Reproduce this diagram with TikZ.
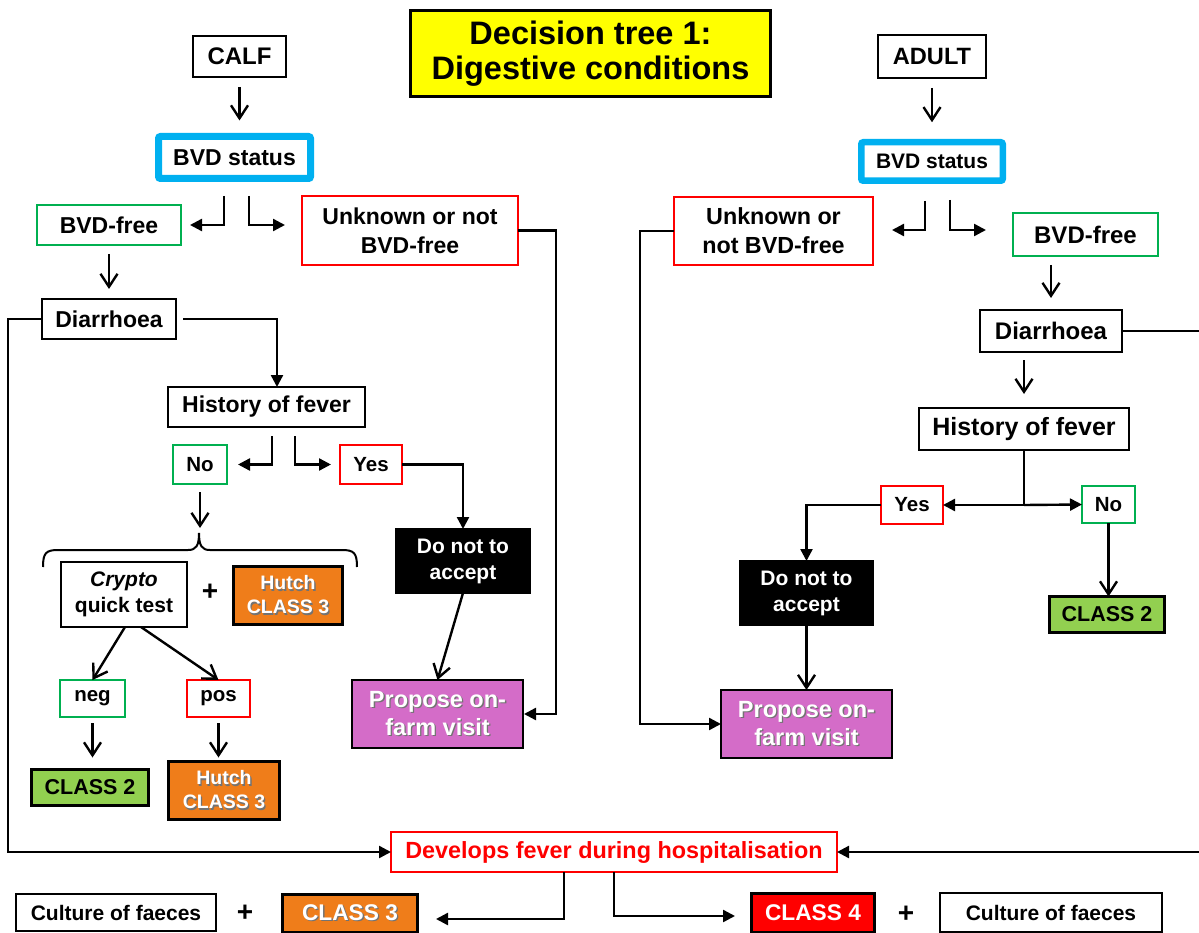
\documentclass[tikz,border=0pt]{standalone}
\usepackage{fontspec}
\setmainfont{Liberation Sans}
\usetikzlibrary{arrows.meta,calc}

\definecolor{tyellow}{HTML}{FFFF00}
\definecolor{tblue}{HTML}{00B0F0}
\definecolor{tgreen}{HTML}{00B050}
\definecolor{tred}{HTML}{FF0000}
\definecolor{torange}{HTML}{EF7D1A}
\definecolor{tlime}{HTML}{92D050}
\definecolor{tpurple}{HTML}{D46CC8}

% font size with line spacing
\newcommand\fs[2]{\fontsize{#1}{#2}\selectfont}
% white label with a soft dark drop shadow
\newcommand\shd[1]{\leavevmode\rlap{\kern1.3pt\raisebox{-1.3pt}{\textcolor{black!55}{#1}}}#1}

\tikzset{
  box/.style={draw, line width=2.5pt, rectangle, inner sep=0pt, outer sep=0pt, align=center},
  blk/.style={box, draw=black},
  grn/.style={box, draw=tgreen},
  rd/.style={box, draw=tred},
  bvdbox/.style={box, draw=tblue, fill=white, line width=7pt, rounded corners=2pt},
  cls/.style={box, draw=black, line width=3pt, text=white},
  wire/.style={line width=2.4pt},
  open/.style={wire, -{Straight Barb[length=13pt,width=17pt]}},
  tri/.style={wire, -{Triangle[length=12pt,width=12pt]}},
  plus/.style={font=\bfseries\fs{28}{30}, inner sep=0pt},
}

\begin{document}
\begin{tikzpicture}[x=1pt, y=-1pt]
\useasboundingbox (0,0) rectangle (1199,933);

% ---------- title ----------
\node[blk, fill=tyellow, line width=2.8pt, minimum width=360pt, minimum height=86pt,
      font=\bfseries\fs{32.5}{35}] (title) at (590.5,53.5) {Decision tree 1:\\Digestive conditions};

% ---------- calf branch ----------
\node[blk, minimum width=93pt, minimum height=41pt, font=\bfseries\fs{24}{28}] (calf) at (239.5,56.5) {CALF};
\node[bvdbox, minimum width=152pt, minimum height=42pt, font=\bfseries\fs{23}{28}] (bvd1) at (234.5,157.5) {BVD status};
\node[grn, minimum width=144pt, minimum height=40pt, font=\bfseries\fs{23}{28}] (free1) at (109,225) {BVD-free};
\node[rd, minimum width=216pt, minimum height=69pt, font=\bfseries\fs{23}{29}] (unk1) at (410,230.5) {Unknown or not\\BVD-free};
\node[blk, minimum width=134pt, minimum height=40pt, font=\bfseries\fs{23}{28}] (dia1) at (109,319) {Diarrhoea};
\node[blk, minimum width=197pt, minimum height=40pt, font=\bfseries\fs{23}{28}] (hist1) at (266.5,407) {History of fever};
\node[grn, minimum width=54pt, minimum height=39pt, font=\bfseries\fs{20.5}{24}] (no1) at (200,464.5) {No};
\node[rd, minimum width=62pt, minimum height=39pt, font=\bfseries\fs{20.5}{24}] (yes1) at (371,464.5) {Yes};
\node[box, draw=black, fill=black, text=white, minimum width=134pt, minimum height=64pt,
      font=\bfseries\fs{21}{26}] (dna1) at (463,561) {Do not to\\accept};
\node[blk, minimum width=126pt, minimum height=65pt, font=\bfseries\fs{21}{26}] (crypto) at (124,594.5) {\textit{Crypto}\\quick test};
\node[plus] (plus1) at (210,592) {+};
\node[cls, fill=torange, minimum width=109pt, minimum height=58pt, font=\bfseries\fs{19.5}{24}] (hutchA) at (288,595.5) {\shd{Hutch}\\\shd{CLASS 3}};
\node[grn, minimum width=65pt, minimum height=37pt, font=\bfseries\fs{20.5}{24}] (neg) at (92.5,698.5) {neg};
\node[rd, minimum width=63pt, minimum height=37pt, font=\bfseries\fs{20.5}{24}] (pos) at (218.5,698.5) {pos};
\node[cls, fill=tlime, text=black, minimum width=117pt, minimum height=36pt, font=\bfseries\fs{21.5}{25}] (cls2a) at (90,787.5) {CLASS 2};
\node[cls, fill=torange, minimum width=111pt, minimum height=58pt, font=\bfseries\fs{19.5}{24}] (hutchB) at (224,790.5) {\shd{Hutch}\\\shd{CLASS 3}};
\node[box, draw=black, fill=tpurple, text=white, minimum width=171pt, minimum height=68pt,
      font=\bfseries\fs{23.5}{28}] (prop1) at (437.5,714) {\shd{Propose on-}\\\shd{farm visit}};

% ---------- adult branch ----------
\node[blk, minimum width=108pt, minimum height=43pt, font=\bfseries\fs{23.6}{28}] (adult) at (932,56.5) {ADULT};
\node[bvdbox, line width=6.5pt, minimum width=141.5pt, minimum height=38.5pt, font=\bfseries\fs{21}{26}] (bvd2) at (932,161.5) {BVD status};
\node[rd, minimum width=199pt, minimum height=68pt, font=\bfseries\fs{23.3}{29}] (unk2) at (773.5,231) {Unknown or\\not BVD-free};
\node[grn, minimum width=145pt, minimum height=43pt, font=\bfseries\fs{24}{28}] (free2) at (1085.5,234.5) {BVD-free};
\node[blk, minimum width=142pt, minimum height=42pt, font=\bfseries\fs{24}{28}] (dia2) at (1051,331) {Diarrhoea};
\node[blk, minimum width=210pt, minimum height=42pt, font=\bfseries\fs{25}{29}] (hist2) at (1024,429) {History of fever};
\node[rd, minimum width=62pt, minimum height=38pt, font=\bfseries\fs{20.5}{24}] (yes2) at (912,505) {Yes};
\node[grn, minimum width=53pt, minimum height=37pt, font=\bfseries\fs{20.5}{24}] (no2) at (1108.5,504.5) {No};
\node[box, draw=black, fill=black, text=white, minimum width=133pt, minimum height=64pt,
      font=\bfseries\fs{21}{26}] (dna2) at (806.5,593) {Do not to\\accept};
\node[cls, fill=tlime, text=black, minimum width=115pt, minimum height=36pt, font=\bfseries\fs{21.5}{25}] (cls2b) at (1107,614.5) {CLASS 2};
\node[box, draw=black, fill=tpurple, text=white, minimum width=171pt, minimum height=68pt,
      font=\bfseries\fs{23.5}{28}] (prop2) at (806.5,724) {\shd{Propose on-}\\\shd{farm visit}};

% ---------- bottom row ----------
\node[rd, text=tred, minimum width=446pt, minimum height=40pt, font=\bfseries\fs{23.4}{28}] (dev) at (614,852) {Develops fever during hospitalisation};
\node[blk, minimum width=200pt, minimum height=37pt, font=\bfseries\fs{21}{25}] (cult1) at (116,912.5) {Culture of faeces};
\node[plus] (plus2) at (245,913) {+};
\node[cls, fill=torange, minimum width=135pt, minimum height=38pt, font=\bfseries\fs{22.7}{27}] (cls3) at (350,913.5) {\shd{CLASS 3}};
\node[cls, fill=tred, minimum width=123pt, minimum height=39pt, font=\bfseries\fs{22.7}{27}] (cls4) at (813,913) {CLASS 4};
\node[plus] (plus3) at (906,914) {+};
\node[blk, minimum width=222pt, minimum height=39pt, font=\bfseries\fs{21}{25}] (cult2) at (1051,912.5) {Culture of faeces};

% ---------- helper points ----------
\coordinate (b1l) at (224,196);  \coordinate (b1r) at (249,196);  \coordinate (b1re) at (285,225);
\coordinate (b2l) at (272,436);  \coordinate (b2r) at (295,436);
\coordinate (b3l) at (925,201);  \coordinate (b3le) at (892,230);
\coordinate (b3r) at (950,200);  \coordinate (b3re) at (986,230);
\coordinate (r1) at (556,0);     \coordinate (l1) at (8,0);
\coordinate (h1in) at (277,0);
\coordinate (brtip) at (199,533);
\coordinate (d3) at (564,0);     \coordinate (c3in) at (436,919);
\coordinate (c4in) at (735,916);
\coordinate (r2) at (1208,0);    \coordinate (l2) at (640,0);

% ---------- calf connectors ----------
\draw[open, shorten <=10pt, shorten >=16pt] (calf.south) -- (calf.south |- bvd1.north);
\draw[tri, shorten >=9pt] (b1l) |- (free1.east);
\draw[tri] (b1r) |- (b1re);
\draw[tri, shorten >=1pt] (unk1.east) -- (unk1.east -| r1) |- (prop1.east);
\draw[open, shorten <=9pt, shorten >=10pt] (free1.south) -- (free1.south |- dia1.north);
\draw[tri] (dia1.west) -- (dia1.west -| l1) |- (dev.west);
\draw[tri, shorten <=7pt] (dia1.east) -| (h1in |- hist1.north);
\draw[tri, shorten >=11pt] (b2l) |- (no1.east);
\draw[tri, shorten >=9pt] (b2r) |- (yes1.west);
\draw[tri] (yes1.east) -| (dna1.north);
\draw[open, shorten <=8pt, shorten >=5pt] (no1.south) -- (no1.south |- brtip);
\draw[open] (dna1.south) -- (prop1.north);
\draw[open] ($(crypto.south)+(1,0)$) -- (neg.north);
\draw[open] ($(crypto.south)+(17,0)$) -- (pos.north);
\draw[open, shorten <=6pt, shorten >=12pt] (neg.south) -- (neg.south |- cls2a.north);
\draw[open, shorten <=6pt, shorten >=4pt] (pos.south) -- (pos.south |- hutchB.north);

% curly brace over the two tests
\draw[wire, line width=2pt] (43,567) .. controls (43,553) and (46,550) .. (58,550) -- (188,550)
  .. controls (196,550) and (199,546) .. (brtip)
  .. controls (199,546) and (202,550) .. (210,550) -- (342,550)
  .. controls (354,550) and (357,553) .. (357,567);

% ---------- adult connectors ----------
\draw[open, shorten <=10pt, shorten >=20pt] (adult.south) -- (adult.south |- bvd2.north);
\draw[tri] (b3l) |- (b3le);
\draw[tri] (b3r) |- (b3re);
\draw[tri] (unk2.west) -- (unk2.west -| l2) |- (prop2.west);
\draw[open, shorten <=9pt, shorten >=12pt] (dia2.north |- free2.south) -- (dia2.north);
\draw[open, shorten <=8pt, shorten >=14pt] (hist2.north |- dia2.south) -- (hist2.north);
\coordinate (split) at (hist2.south |- yes2.east);
\draw[wire] (hist2.south) -- (split);
\draw[tri] (split) -- (yes2.east);
\draw[tri] (split) -- (no2.west);
\draw[tri] (yes2.west) -| (dna2.north);
\draw[open] (no2.south) -- (no2.south |- cls2b.north);
\draw[open] (dna2.south) -- (prop2.north);
\draw[wire] (dia2.east) -- (dia2.east -| r2) -- (r2 |- dev.east);
\draw[tri] (r2 |- dev.east) -- (dev.east);

% ---------- bottom connectors ----------
\draw[tri] (dev.south -| d3) |- (c3in);
\draw[tri] (dev.south) |- (c4in);
\end{tikzpicture}
\end{document}
